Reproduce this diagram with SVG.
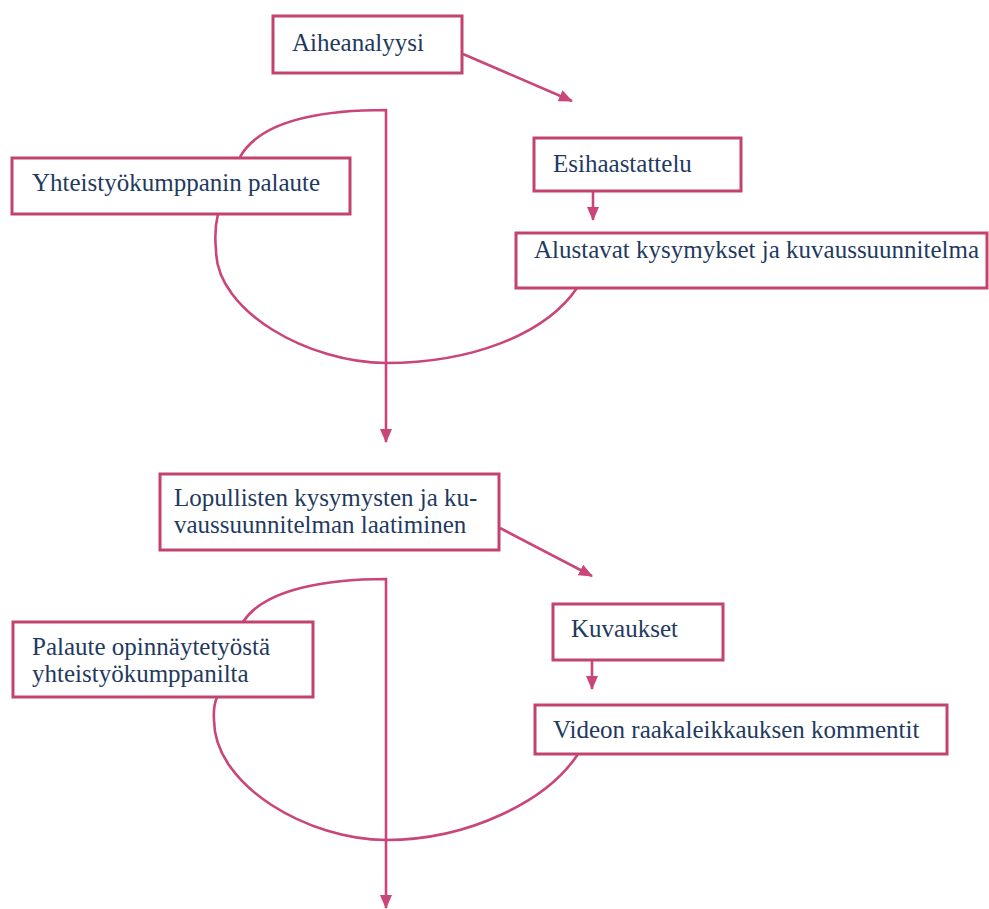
<svg xmlns="http://www.w3.org/2000/svg" width="989" height="909" viewBox="0 0 989 909">
<defs>
<style>
.box{fill:#ffffff;stroke:#c2436d;stroke-width:3}
.c{fill:none;stroke:#c9457a;stroke-width:2.6}
.t{font-family:"Liberation Serif","Times New Roman",serif;font-size:25px;fill:#1f3a60}
</style>
<marker id="ah" markerUnits="userSpaceOnUse" markerWidth="14" markerHeight="12" refX="13" refY="6" orient="auto">
<path d="M0,0 L14,6 L0,12 Z" fill="#c9457a"/>
</marker>
</defs>
<rect width="989" height="909" fill="#ffffff"/>
<g id="connectors">
<path class="c" d="M463,54 L572,101" marker-end="url(#ah)"/>
<path class="c" d="M593,191 L593,220" marker-end="url(#ah)"/>
<path class="c" d="M240,157 C262,118 330,110 386,110 L386,442" marker-end="url(#ah)"/>
<path class="c" d="M218,214 Q214,230 216,250 C216,312 310,363 386,363 C470,363 545,335 577,288"/>
<path class="c" d="M500,528 L592,576" marker-end="url(#ah)"/>
<path class="c" d="M592,660 L592,689" marker-end="url(#ah)"/>
<path class="c" d="M243,622 C265,588 330,579 386,579 L386,908" marker-end="url(#ah)"/>
<path class="c" d="M217,697 Q213,707 214,720 C214,786 309,840 386,840 C470,840 548,800 578,754"/>
</g>
<g id="aiheanalyysi">
<rect class="box" x="273" y="16" width="189" height="57"/>
<text class="t" x="292" y="51">Aiheanalyysi</text>
</g>
<g id="esihaastattelu">
<rect class="box" x="534" y="138" width="207" height="53"/>
<text class="t" x="553" y="172">Esihaastattelu</text>
</g>
<g id="alustavat">
<rect class="box" x="516" y="233" width="471" height="55"/>
<text class="t" x="534" y="258">Alustavat kysymykset ja kuvaussuunnitelma</text>
</g>
<g id="yhteistyokumppanin-palaute">
<rect class="box" x="12" y="158" width="338" height="56"/>
<text class="t" x="32" y="191">Yhteistyökumppanin palaute</text>
</g>
<g id="lopullisten">
<rect class="box" x="160" y="474" width="339" height="76"/>
<text class="t" x="174" y="506">Lopullisten kysymysten ja ku-</text>
<text class="t" x="174" y="533">vaussuunnitelman laatiminen</text>
</g>
<g id="kuvaukset">
<rect class="box" x="553" y="604" width="170" height="56"/>
<text class="t" x="571" y="637">Kuvaukset</text>
</g>
<g id="videon">
<rect class="box" x="535" y="705" width="412" height="49"/>
<text class="t" x="553" y="738">Videon raakaleikkauksen kommentit</text>
</g>
<g id="palaute-opinnaytetyosta">
<rect class="box" x="13" y="622" width="300" height="75"/>
<text class="t" x="32" y="655">Palaute opinnäytetyöstä</text>
<text class="t" x="32" y="682">yhteistyökumppanilta</text>
</g>
</svg>
